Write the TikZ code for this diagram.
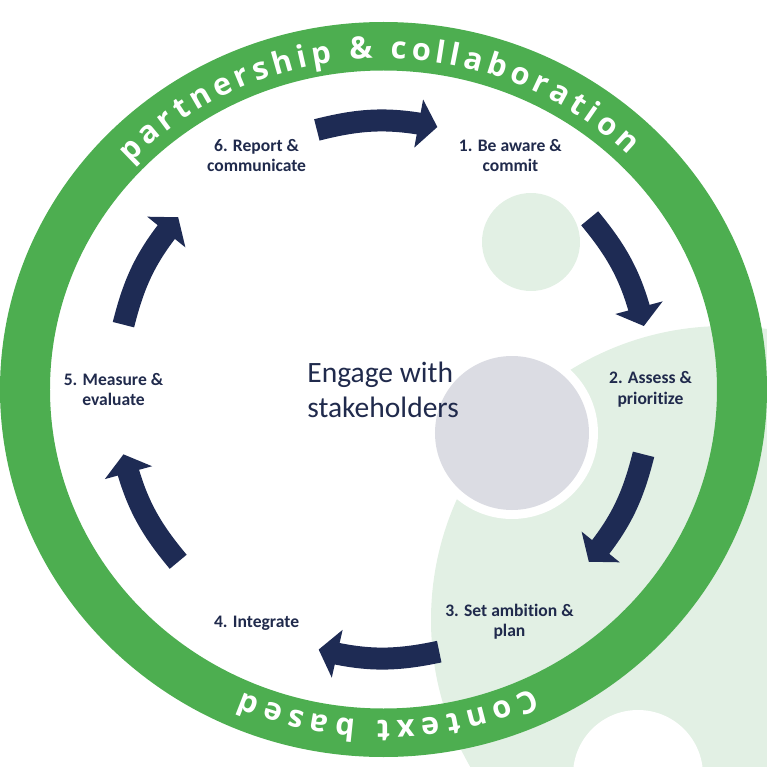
\documentclass[tikz,border=0pt]{standalone}
\usepackage{fontspec}
\setmainfont{Carlito}[Ligatures=NoCommon]
\newfontfamily\ringfont{Open Sans}
\usetikzlibrary{arrows.meta,bending,decorations.text}

\definecolor{ringgreen}{RGB}{77,174,80}
\definecolor{palegreen}{RGB}{226,240,228}
\definecolor{hubgray}{RGB}{219,220,227}
\definecolor{navy}{RGB}{30,43,84}
\definecolor{labelnavy}{RGB}{32,42,76}

\newcommand\ringtext{\ringfont\bfseries\fontsize{17.5}{20}\selectfont}

\begin{document}
\begin{tikzpicture}[x=0.2mm, y=0.2mm,
  stage/.style={text=labelnavy, font=\bfseries\fontsize{10}{11.6}\selectfont, align=center, inner sep=0pt},
  flow/.style={draw=navy, line width=4.4mm, -{Triangle[length=3.8mm, width=9.6mm]}}]
% Marco
\useasboundingbox (-383.5,-377.5) rectangle (383.5,389.5);
\clip (-383.5,-377.5) rectangle (383.5,389.5);
% Fondo
\fill[palegreen] (341.5,-230.5) circle[radius=294];
\fill[palegreen] (147.5,147.5) circle[radius=49];
\fill[white] (254.5,-385.5) circle[radius=65];
\fill[white] (128.5,-43.5) circle[radius=86];
\fill[hubgray] (128.5,-43.5) circle[radius=77];
% Anillo
\fill[ringgreen, even odd rule] (0,0) ellipse[x radius=383.5, y radius=367.5]
                                (0,0) ellipse[x radius=333.5, y radius=319];
\path[decorate, decoration={text along path, text align={fit to path}, text color=white,
      text={|\ringtext|partnership {\&} collaboration}}]
  (137:346 and 331) arc[start angle=137, end angle=45, x radius=346, y radius=331];
\path[decorate, decoration={text along path, text align={fit to path}, text color=white,
      text={|\ringtext|Context based}}]
  (-64.5:346 and 331) arc[start angle=-64.5, end angle=-114, x radius=346, y radius=331];
% Nodos
\node[text=labelnavy, font=\fontsize{16.8}{20}\selectfont, align=left, inner sep=0pt, anchor=west] (hub) at (-76.5,0) {Engage with\\stakeholders};
\node[stage] (s1) at (61.5:266) {1. Be aware \&\\commit};
\node[stage] (s2) at (0:267) {2. Assess \&\\prioritize};
\node[stage] (s3) at (-61.5:264) {3. Set ambition \&\\plan};
\node[stage] (s4) at (-118.5:266) {4. Integrate};
\node[stage] (s5) at (180:270) {5. Measure \&\\evaluate};
\node[stage] (s6) at (118.5:266) {6. Report \&\\communicate};
% Flechas
\coordinate (t1) at (104.4:268); \coordinate (h1) at (78.4:268);
\coordinate (t2) at (39.7:268);  \coordinate (h2) at (13.7:268);
\coordinate (t3) at (-14:268);   \coordinate (h3) at (-40:268);
\coordinate (t4) at (-78:268);   \coordinate (h4) at (-104:268);
\coordinate (t5) at (-140:268);  \coordinate (h5) at (-166:268);
\coordinate (t6) at (166:268);   \coordinate (h6) at (140:268);
\path (t1) edge[flow, bend left=13] (h1);
\path (t2) edge[flow, bend left=13] (h2);
\path (t3) edge[flow, bend left=13] (h3);
\path (t4) edge[flow, bend left=13] (h4);
\path (t5) edge[flow, bend left=13] (h5);
\path (t6) edge[flow, bend left=13] (h6);
\end{tikzpicture}
\end{document}
